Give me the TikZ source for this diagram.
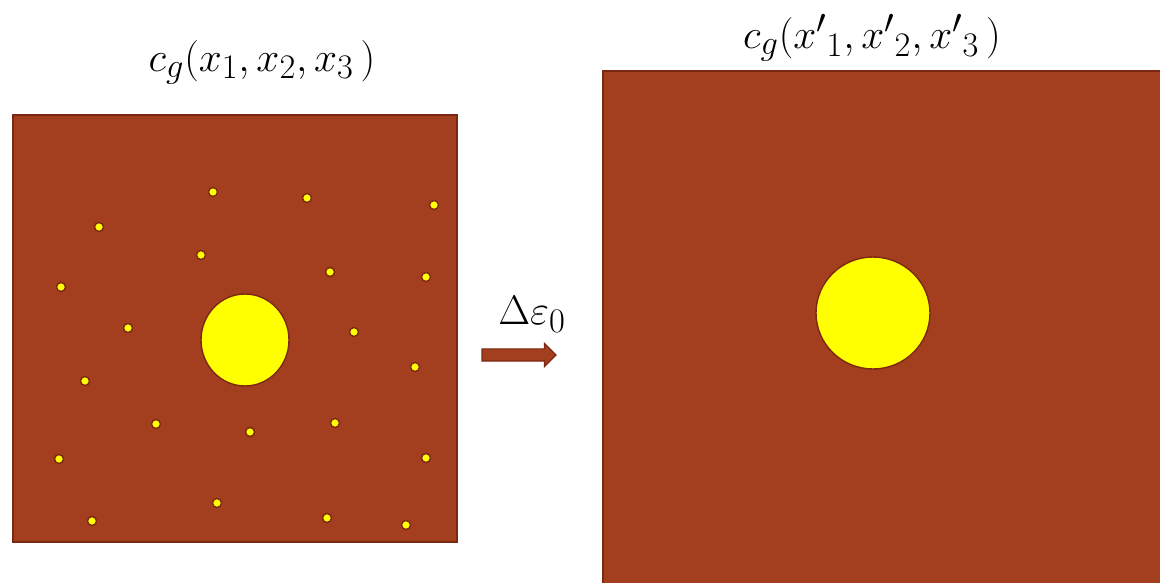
\documentclass[tikz,border=0pt]{standalone}
\usepackage{amsmath}
\usepackage{amssymb}
\usepackage{tikz}
\usetikzlibrary{shapes.arrows, shapes.geometric}
\definecolor{rust}{RGB}{163,62,30}
\definecolor{rustline}{RGB}{125,40,18}
\definecolor{grain}{RGB}{255,255,0}
\newlength\pxu
\setlength\pxu{0.025cm}
\tikzset{slab/.style = {shape = rectangle, draw = rustline, fill = rust, line width = 1.2pt, inner sep = 0pt}}
\tikzset{pore/.style = {shape = ellipse, draw = rustline, fill = grain, line width = 1pt, inner sep = 0pt}}
\tikzset{dot/.style = {shape = circle, draw = rustline, fill = grain, line width = 1pt, inner sep = 0pt, minimum size = 9\pxu}}
\tikzset{lbl/.style = {font = \Huge, scale = 1.18, inner sep = 0pt}}

\begin{document}
\begin{tikzpicture}[x = 0.025cm, y = -0.025cm]
				\useasboundingbox (0, 0) rectangle (1160, 583);
				\clip (0, 0) rectangle (1160, 583);

				\node[slab, minimum width = 444\pxu, minimum height = 427\pxu] (before) at (235, 328.5) {};
				\node[slab, minimum width = 600\pxu, minimum height = 560\pxu] (after) at (903, 351) {};

				\node[pore, minimum width = 88\pxu, minimum height = 92\pxu] (inc) at (245, 340) {};
				\node[pore, minimum width = 114\pxu, minimum height = 112\pxu] (inc2) at (873, 313) {};

				% vacancies
				\foreach \px/\py [count = \i] in {213/192, 307/198, 434/205, 99/227, 201/255, 330/272, 426/277, 61/287, 128/328, 354/332, 415/367, 85/381, 156/424, 250/432, 335/423, 59/459, 426/458, 217/503, 92/521, 327/518, 406/525}
					\node[dot] (v\i) at (\px, \py) {};

				\node[lbl] (cold) at (262, 62) {$c_g(x_1, x_2, x_3\,)$};
				\node[lbl] (cnew) at (872, 38) {$c_g({x'}_1, {x'}_2, {x'}_3\,)$};

				\node[single arrow, draw = rustline, fill = rust, line width = 0.8pt, inner xsep = 0pt, inner ysep = 5.5\pxu, single arrow head extend = 5.5\pxu, minimum height = 74\pxu] (step1) at (516, 355) {};
				\node[lbl] (deps) at (532, 314) {$\Delta\varepsilon_0$};
			\end{tikzpicture}
\end{document}
